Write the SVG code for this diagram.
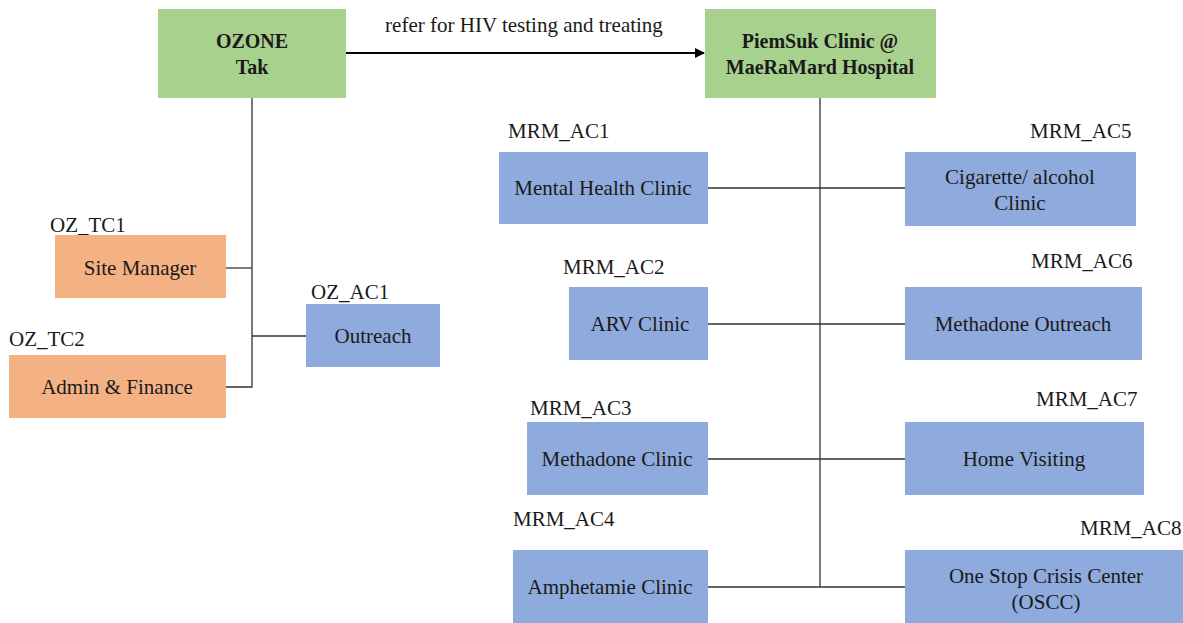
<svg xmlns="http://www.w3.org/2000/svg" width="1183" height="623" viewBox="0 0 1183 623">
<style>
text{font-family:'Liberation Serif','Times New Roman','DejaVu Serif',serif;font-size:21px;fill:#1a1a1a}
.c{text-anchor:middle}
.b{font-weight:bold;font-size:20px}
.g{fill:#A9D18E}
.o{fill:#F4B183}
.u{fill:#8FAADC}
.ln{stroke:#333;stroke-width:1.3;fill:none}
</style>
<defs>
<marker id="ah" markerWidth="10" markerHeight="10" refX="9" refY="5" orient="auto" markerUnits="userSpaceOnUse">
<path d="M0,0 L10,5 L0,10 z" fill="#000"/>
</marker>
</defs>
<g id="connectors">
<line class="ln" x1="346" y1="53" x2="704" y2="53" style="stroke:#000;stroke-width:2" marker-end="url(#ah)"/>
<text class="c" x="524" y="32">refer for HIV  testing and treating</text>
<polyline class="ln" points="252,98 252,387 226,387"/>
<line class="ln" x1="226" y1="268" x2="252" y2="268"/>
<line class="ln" x1="252" y1="336" x2="306" y2="336"/>
<polyline class="ln" points="820,98 820,587"/>
<line class="ln" x1="708" y1="188" x2="905" y2="188"/>
<line class="ln" x1="708" y1="324" x2="905" y2="324"/>
<line class="ln" x1="708" y1="459" x2="905" y2="459"/>
<line class="ln" x1="708" y1="587" x2="905" y2="587"/>
</g>
<g id="ozone"><rect class="g" x="158" y="9" width="188" height="89"/><text class="c b" x="252" y="48">OZONE</text><text class="c b" x="252" y="74">Tak</text></g>
<g id="piemsuk"><rect class="g" x="705" y="9" width="231" height="89"/><text class="c b" x="820" y="48">PiemSuk Clinic  @</text><text class="c b" x="820" y="74">MaeRaMard Hospital</text></g>
<g id="oz_tc1"><text x="50" y="232">OZ_TC1</text><rect class="o" x="55" y="235" width="171" height="63"/><text class="c" x="140" y="275">Site Manager</text></g>
<g id="oz_tc2"><text x="9" y="346">OZ_TC2</text><rect class="o" x="9" y="355" width="217" height="63"/><text class="c" x="117" y="394">Admin &amp; Finance</text></g>
<g id="oz_ac1"><text x="311" y="299">OZ_AC1</text><rect class="u" x="306" y="304" width="134" height="63"/><text class="c" x="373" y="343">Outreach</text></g>
<g id="mrm_ac1"><text x="508" y="138">MRM_AC1</text><rect class="u" x="499" y="152" width="209" height="72"/><text class="c" x="603" y="195">Mental Health  Clinic</text></g>
<g id="mrm_ac2"><text x="563" y="274">MRM_AC2</text><rect class="u" x="569" y="287" width="139" height="73"/><text class="c" x="640" y="331">ARV Clinic</text></g>
<g id="mrm_ac3"><text x="530" y="415">MRM_AC3</text><rect class="u" x="527" y="422" width="181" height="73"/><text class="c" x="617" y="466">Methadone Clinic</text></g>
<g id="mrm_ac4"><text x="513" y="526">MRM_AC4</text><rect class="u" x="513" y="550" width="195" height="73"/><text class="c" x="610" y="594">Amphetamie Clinic</text></g>
<g id="mrm_ac5"><text x="1030" y="138">MRM_AC5</text><rect class="u" x="905" y="152" width="231" height="74"/><text class="c" x="1020" y="184">Cigarette/  alcohol</text><text class="c" x="1020" y="210">Clinic</text></g>
<g id="mrm_ac6"><text x="1031" y="268">MRM_AC6</text><rect class="u" x="905" y="287" width="237" height="73"/><text class="c" x="1023" y="331">Methadone Outreach</text></g>
<g id="mrm_ac7"><text x="1036" y="406">MRM_AC7</text><rect class="u" x="905" y="422" width="239" height="73"/><text class="c" x="1024" y="466">Home Visiting</text></g>
<g id="mrm_ac8"><text x="1080" y="535">MRM_AC8</text><rect class="u" x="905" y="550" width="278" height="73"/><text class="c" x="1046" y="583">One Stop Crisis Center</text><text class="c" x="1046" y="609">(OSCC)</text></g>
</svg>
